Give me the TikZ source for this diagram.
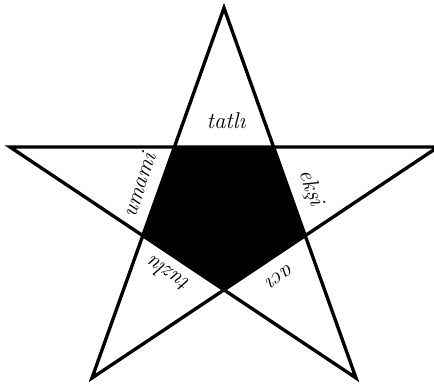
\documentclass[tikz,border=0pt]{standalone}
\usepackage{fontspec}
\usepackage{tikz}
\usetikzlibrary{calc}
\tikzset{taste/.style={font=\fontsize{13}{15}\selectfont\itshape,inner sep=1pt}}

\begin{document}
\begin{tikzpicture}[x=0.02cm,y=0.02cm,line width=1.9pt,line join=miter]
    \useasboundingbox (0,0) rectangle (434,389);
    % star tips
    \coordinate (T)  at (224,381);
    \coordinate (L)  at (10,242);
    \coordinate (R)  at (438,242);
    \coordinate (BL) at (92,11);
    \coordinate (BR) at (356,11);
    % inner pentagon
    \coordinate (pA) at (intersection of T--BL and L--R);
    \coordinate (pB) at (intersection of T--BR and L--R);
    \coordinate (pC) at (intersection of T--BR and R--BL);
    \coordinate (pD) at (intersection of L--BR and R--BL);
    \coordinate (pE) at (intersection of T--BL and L--BR);
    \fill (pA)--(pB)--(pC)--(pD)--(pE)--cycle;
    \draw (T)--(BR)--(L)--(R)--(BL)--cycle;
    \foreach \n/\t/\x/\y/\r in {
      sweet/{tatlı}/226/268/0,
      sour/{ekşi}/311/201/-70.4,
      bitter/{acı}/280/113/-146,
      salty/{tuzlu}/168/114/146,
      savory/{umami}/139/204/71.6
    }{
      \node[taste,rotate=\r] (\n) at (\x,\y) {\t};
    }
\end{tikzpicture}
\end{document}
